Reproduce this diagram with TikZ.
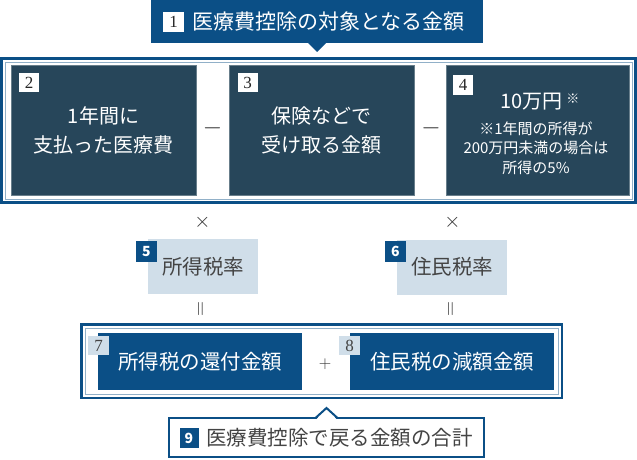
\documentclass[tikz,border=0pt]{standalone}
\usepackage{fontspec}
\newfontfamily\jp{Noto Sans CJK JP}
\newfontfamily\numfont{Liberation Serif}
\definecolor{navy}{HTML}{0B4F86}
\definecolor{slate}{HTML}{27465A}
\definecolor{paleblue}{HTML}{D0DEE9}
\definecolor{inkgray}{HTML}{444444}
\begin{document}
\begin{tikzpicture}[x=1pt, y=-1pt,
  every node/.style={inner sep=0pt, outer sep=0pt},
  bigframe/.style={rectangle, draw=navy, line width=2.5pt, fill=white},
  darkbox/.style={rectangle, fill=slate, draw=slate!70!white, line width=0.8pt, text=white,
    align=center, minimum width=185pt, minimum height=130pt, font=\jp\fontsize{20}{29}\selectfont},
  navybox/.style={rectangle, fill=navy, text=white, minimum width=204pt, minimum height=57pt,
    font=\jp\fontsize{20.5}{20.5}\selectfont},
  palebox/.style={rectangle, fill=paleblue, text=inkgray, minimum width=110pt, minimum height=55pt,
    font=\jp\fontsize{20.5}{20.5}\selectfont},
  numwhite/.style={rectangle, fill=white, text=black!85, minimum width=20pt, minimum height=19pt,
    font=\numfont\fontsize{17}{17}\selectfont},
  numnavy/.style={rectangle, fill=navy, text=white, minimum width=21pt, minimum height=21pt,
    font=\jp\bfseries\fontsize{14}{14}\selectfont},
  numpale/.style={rectangle, fill=paleblue, text=inkgray, minimum width=21pt, minimum height=19pt,
    font=\numfont\fontsize{17}{17}\selectfont},
  op/.style={text=black!80}
]
\useasboundingbox (0,0) rectangle (637,460);

% top title
\node[rectangle, fill=navy, minimum width=332pt, minimum height=43pt] (title) at (317,21.5) {};
\fill[navy] ([xshift=-9pt]title.south) -- ([yshift=-9pt]title.south) -- ([xshift=9pt]title.south) -- cycle;
\node[numwhite, minimum width=21pt, minimum height=20pt] (n1) at (173.5,22) {1};
\node[anchor=west, text=white, font=\jp\fontsize{21}{21}\selectfont] (t1) at (192,22) {医療費控除の対象となる金額};

% upper frame
\node[bigframe, minimum width=634pt, minimum height=144pt] (upper) at (318.5,130.5) {};
\draw[navy!45, line width=0.5pt] ([shift={(3.5pt,-3.5pt)}]upper.north west) rectangle ([shift={(-3.5pt,3.5pt)}]upper.south east);

\node[darkbox] (b2) at (103.5,130) {1年間に\\支払った医療費};
\node[darkbox] (b3) at (321.5,130) {保険などで\\受け取る金額};
\node[darkbox, minimum width=183pt] (b4) at (537.5,130) {};
\node[text=white, font=\jp\fontsize{20}{20}\selectfont] (t4a) at (540,102) {10万円\,\raisebox{5pt}{\fontsize{13}{13}\selectfont ※}};
\node[text=white, align=center, font=\jp\fontsize{15}{19.5}\selectfont] (t4b) at (536,148) {※1年間の所得が\\200万円未満の場合は\\所得の5\%};

\node[numwhite] (n2) at (29,82.5) {2};
\node[numwhite] (n3) at (247.5,82.5) {3};
\node[numwhite] (n4) at (463,85) {4};

\node[op, font=\fontsize{24}{24}\selectfont] (m1) at (212.5,128) {$-$};
\node[op, font=\fontsize{24}{24}\selectfont] (m2) at (431,128) {$-$};

% tax rates
\node[op, font=\fontsize{20}{20}\selectfont] (x1) at (202.5,222) {$\times$};
\node[op, font=\fontsize{20}{20}\selectfont] (x2) at (452.5,222) {$\times$};

\node[palebox] (b5) at (203,266.5) {所得税率};
\node[palebox] (b6) at (452,267) {住民税率};
\node[numnavy] (n5) at (146.5,251.5) {5};
\node[numnavy] (n6) at (395.5,251.5) {6};

\node[op, rotate=90, font=\fontsize{20}{20}\selectfont] (e1) at (202,309) {$=$};
\node[op, rotate=90, font=\fontsize{20}{20}\selectfont] (e2) at (452,309) {$=$};

% lower frame
\node[bigframe, minimum width=480.5pt, minimum height=73.5pt] (lower) at (321.5,361) {};
\draw[navy!45, line width=0.5pt] ([shift={(3.5pt,-3.5pt)}]lower.north west) rectangle ([shift={(-3.5pt,3.5pt)}]lower.south east);

\node[navybox] (b7) at (200,361.5) {所得税の還付金額};
\node[navybox] (b8) at (452,361.5) {住民税の減額金額};
\node[numpale] (n7) at (98.5,345.5) {7};
\node[numpale] (n8) at (349.5,345.5) {8};
\node[op, font=\fontsize{18}{18}\selectfont] (plus) at (325,364) {$+$};

% bottom callout
\node[rectangle, draw=navy, line width=2pt, fill=white, minimum width=315pt, minimum height=39pt] (total) at (326.5,437.5) {};
\fill[white] ([xshift=-10pt,yshift=-1.2pt]total.north) -- ([yshift=10pt]total.north) -- ([xshift=10pt,yshift=-1.2pt]total.north) -- cycle;
\draw[navy, line width=2pt] ([xshift=-11pt]total.north) -- ([yshift=10pt]total.north) -- ([xshift=11pt]total.north);
\node[numnavy, minimum width=19pt, minimum height=20pt] (n9) at (189,438) {9};
\node[anchor=west, text=inkgray, font=\jp\fontsize{20.5}{20.5}\selectfont] (t9) at (206,438) {医療費控除で戻る金額の合計};
\end{tikzpicture}
\end{document}
